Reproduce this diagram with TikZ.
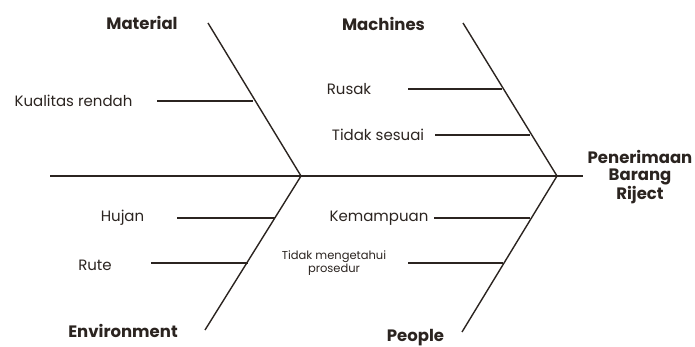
\documentclass[tikz,border=0pt]{standalone}
\usepackage{fontspec}
\setmainfont{Poppins}
\definecolor{ink}{HTML}{2B2420}
\begin{document}
\begin{tikzpicture}[x=1pt,y=-1pt,
  bone/.style={draw=ink,line width=1.4pt},
  cause/.style={text=ink,font=\fontsize{15}{17}\selectfont,inner sep=0pt},
  small/.style={text=ink,font=\fontsize{11.5}{13}\selectfont,inner sep=0pt,align=center},
  cat/.style={text=ink,font=\bfseries\fontsize{16.5}{18}\selectfont,inner sep=0pt},
  head/.style={text=ink,font=\bfseries\fontsize{16.5}{17}\selectfont,inner sep=0pt,align=center}]
\useasboundingbox (0,0) rectangle (695,347);
% spine
\coordinate (tail) at (50,176);
\coordinate (end) at (583,176);
\coordinate (j1) at (301,176);
\coordinate (j2) at (557,176);
\draw[bone] (tail) -- (end);
% main bones
\coordinate (mat) at (208,23);
\coordinate (mac) at (463,23);
\coordinate (env) at (205,330);
\coordinate (peo) at (462,332);
\draw[bone] (mat) -- (j1);
\draw[bone] (mac) -- (j2);
\draw[bone] (env) -- (j1);
\draw[bone] (peo) -- (j2);
% category labels
\node[cat] (lmat) at (142,23) {Material};
\node[cat] (lmac) at (383.5,24) {Machines};
\node[cat] (lenv) at (123,331) {Environment};
\node[cat] (lpeo) at (415.5,338) {People};
\node[head] (lhead) at (640,177) {Penerimaan\\Barang\\Riject};
% causes
\node[cause] (c1) at (73.5,101) {Kualitas rendah};
\coordinate (c1a) at (157,101); \coordinate (c1b) at (253,101);
\draw[bone] (c1a) -- (c1b);
\node[cause] (c2) at (349,89) {Rusak};
\coordinate (c2a) at (408,89); \coordinate (c2b) at (502,89);
\draw[bone] (c2a) -- (c2b);
\node[cause] (c3) at (378,135) {Tidak sesuai};
\coordinate (c3a) at (435,135); \coordinate (c3b) at (530,135);
\draw[bone] (c3a) -- (c3b);
\node[cause] (c4) at (122.5,218) {Hujan};
\coordinate (c4a) at (177,218); \coordinate (c4b) at (275,218);
\draw[bone] (c4a) -- (c4b);
\node[cause] (c5) at (95,265) {Rute};
\coordinate (c5a) at (151,263); \coordinate (c5b) at (248,263);
\draw[bone] (c5a) -- (c5b);
\node[cause] (c6) at (379,218) {Kemampuan};
\coordinate (c6a) at (434,218); \coordinate (c6b) at (530,218);
\draw[bone] (c6a) -- (c6b);
\node[small] (c7) at (334,263.5) {Tidak mengetahui\\prosedur};
\coordinate (c7a) at (408,263); \coordinate (c7b) at (503,263);
\draw[bone] (c7a) -- (c7b);
\end{tikzpicture}
\end{document}
